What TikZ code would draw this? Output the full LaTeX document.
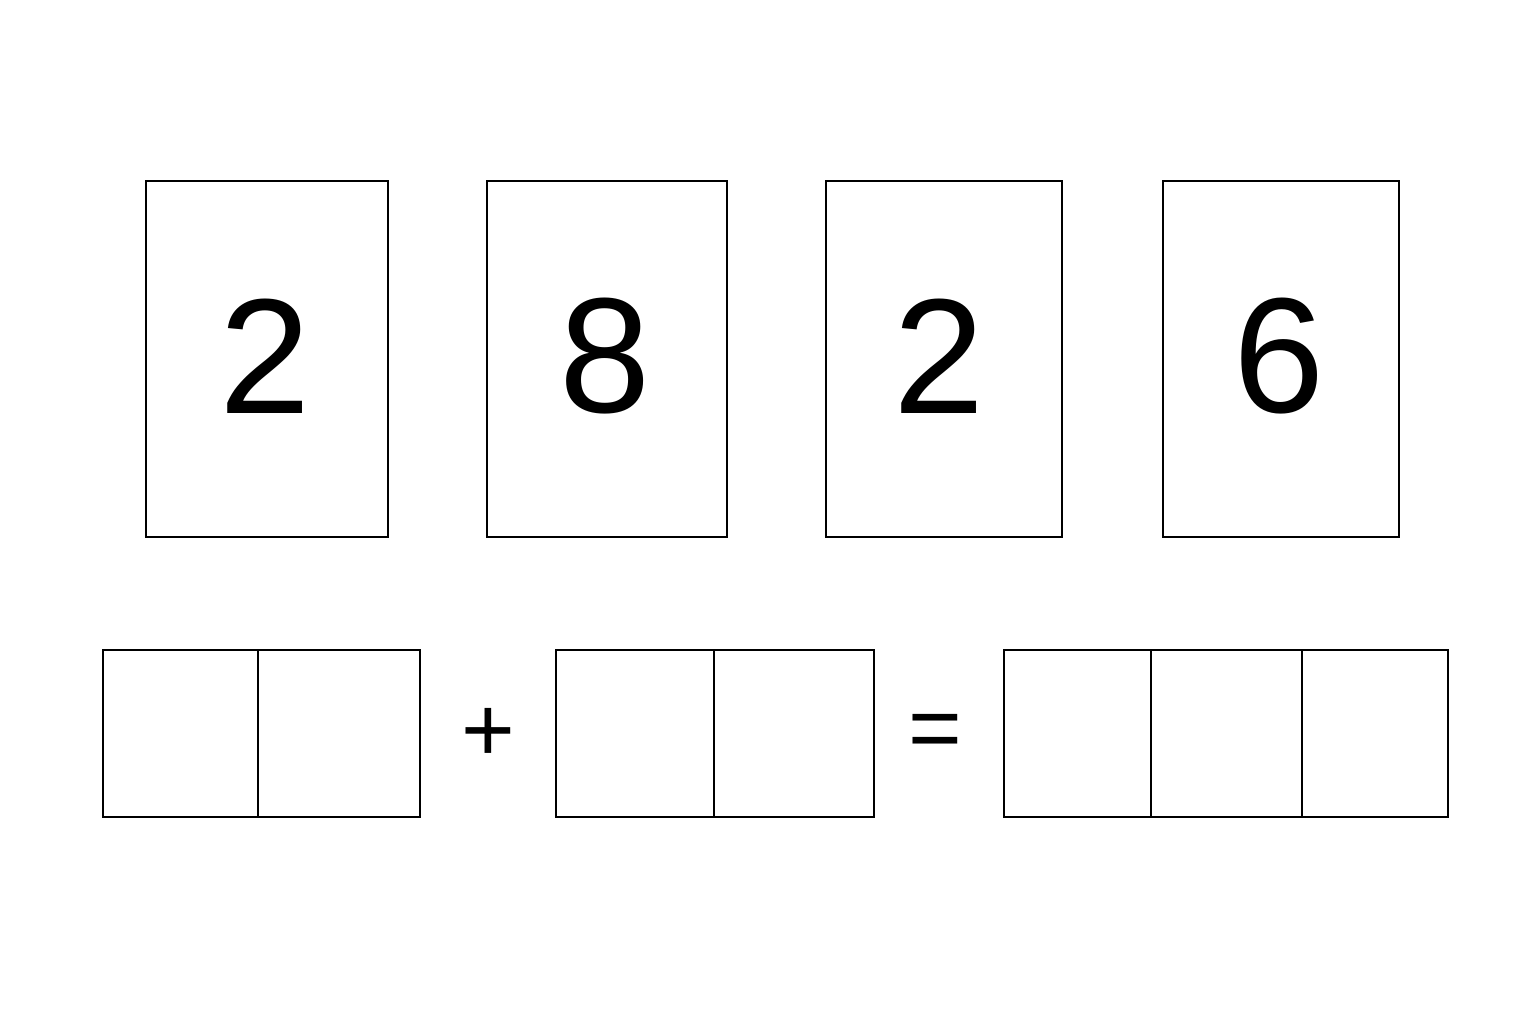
\documentclass[tikz,border=0pt]{standalone}
\usepackage{fontspec}
\setmainfont{Liberation Sans}
\begin{document}
\begin{tikzpicture}[x=1pt,y=-1pt,
  card/.style={draw=black, line width=1.6pt, inner sep=0pt, minimum width=#1, minimum height=356pt},
  cell/.style={draw=black, line width=1.6pt, inner sep=0pt, minimum width=#1, minimum height=167pt},
  digit/.style={font=\fontsize{164}{164}\selectfont},
  op/.style={font=\fontsize{92}{92}\selectfont, inner sep=0pt}]
\useasboundingbox[fill=white] (0,0) rectangle (1536,1024);
% cards
\node[card=242pt] (c1) at (267,359) {};
\node[card=240pt] (c2) at (607,359) {};
\node[card=236pt] (c3) at (944,359) {};
\node[card=236pt] (c4) at (1281,359) {};
\node[digit] (d1) at (265,356) {2};
\node[digit] (d2) at (605,356) {8};
\node[digit] (d3) at (939,356) {2};
\node[digit] (d4) at (1279,356) {6};
% bottom cells
\node[cell=155pt] (a1) at (180.5,733.5) {};
\node[cell=162pt] (a2) at (339,733.5) {};
\node[cell=158pt] (b1) at (635,733.5) {};
\node[cell=160pt] (b2) at (794,733.5) {};
\node[cell=147pt] (s1) at (1077.5,733.5) {};
\node[cell=151pt] (s2) at (1226.5,733.5) {};
\node[cell=146pt] (s3) at (1375,733.5) {};
% operators
\node[op] (plus) at (488,735) {+};
\node[op] (eq) at (935.5,737) {=};
\end{tikzpicture}
\end{document}
